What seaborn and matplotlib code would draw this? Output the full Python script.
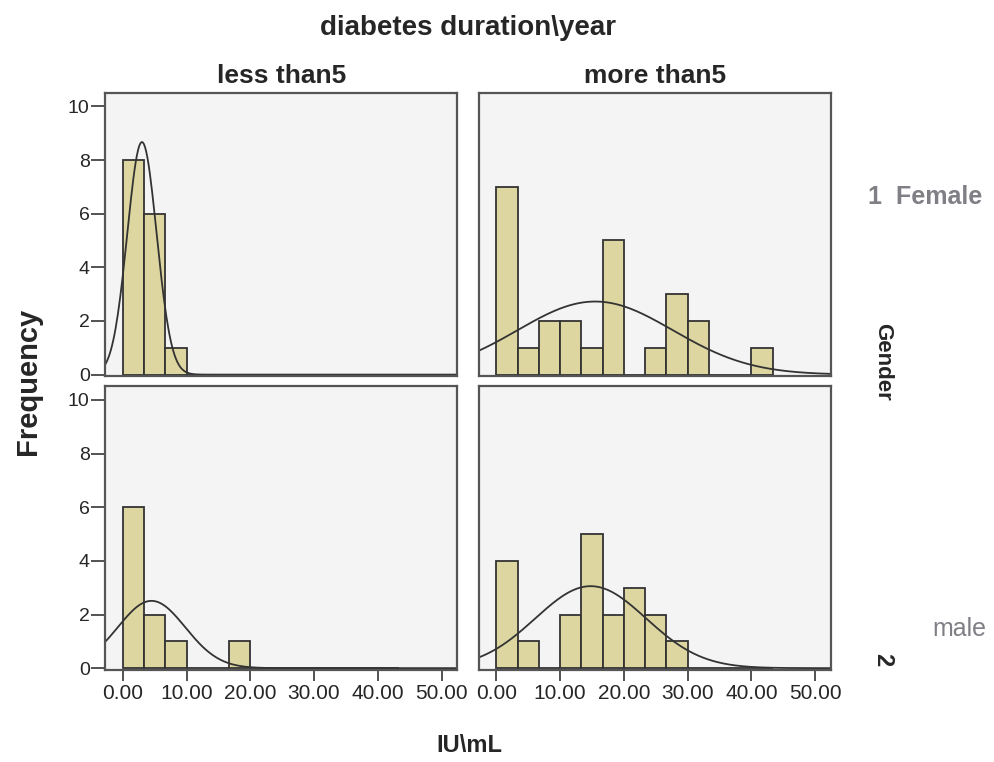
import numpy as np
import pandas as pd
import matplotlib
matplotlib.use("Agg")
import matplotlib.pyplot as plt
import seaborn as sns

sns.set_style("white")
plt.rcParams["font.family"] = ["Liberation Sans", "DejaVu Sans"]

# histogram bins (IU\mL), width 10/3
bin_edges = list(np.arange(14) * (10 / 3))
bin_mids = [(a + b) / 2 for a, b in zip(bin_edges[:-1], bin_edges[1:])]

durations = ["less than5", "more than5"]
genders = ["1  Female", "2 male"]

# counts per bin
female_less = [8, 6, 1, 0, 0, 0, 0, 0, 0, 0, 0, 0, 0]
female_more = [7, 1, 2, 2, 1, 5, 0, 1, 3, 2, 0, 0, 1]
male_less = [6, 2, 1, 0, 0, 1, 0, 0, 0, 0, 0, 0, 0]
male_more = [4, 1, 0, 2, 5, 2, 3, 2, 1, 0, 0, 0, 0]

# fitted normal curves (mean, sd) per panel
fit_mean = {("1  Female", "less than5"): 3.0, ("1  Female", "more than5"): 15.5,
            ("2 male", "less than5"): 4.5, ("2 male", "more than5"): 14.8}
fit_sd = {("1  Female", "less than5"): 2.3, ("1  Female", "more than5"): 12.2,
          ("2 male", "less than5"): 5.3, ("2 male", "more than5"): 8.7}

counts = {("1  Female", "less than5"): female_less, ("1  Female", "more than5"): female_more,
          ("2 male", "less than5"): male_less, ("2 male", "more than5"): male_more}

rows = []
for (g, d), c in counts.items():
    for m, n in zip(bin_mids, c):
        rows.append({"gender": g, "duration": d, "value": m, "count": n})
df = pd.DataFrame(rows)

bar_color = "#DDD6A0"
edge_color = "#333333"
panel_bg = "#F4F4F4"

grid = sns.FacetGrid(df, row="gender", col="duration", row_order=genders,
                     col_order=durations, height=3.5, aspect=1.2, despine=False)
grid.map_dataframe(sns.histplot, x="value", weights="count", bins=bin_edges,
                   color=bar_color, alpha=1, edgecolor=edge_color, linewidth=1.3)

xs = np.linspace(-2.8, 52.5, 300)
binw = bin_edges[1] - bin_edges[0]
for (g, d), ax in grid.axes_dict.items():
    mu, sd = fit_mean[(g, d)], fit_sd[(g, d)]
    n = sum(counts[(g, d)])
    ys = n * binw * np.exp(-0.5 * ((xs - mu) / sd) ** 2) / (sd * np.sqrt(2 * np.pi))
    ax.plot(xs, ys, color="#333333", lw=1.3)
    ax.set_facecolor(panel_bg)
    for s in ax.spines.values():
        s.set_color("#555555")
        s.set_linewidth(1.6)
    ax.set_xlim(-2.8, 52.5)
    ax.set_ylim(-0.07, 10.5)
    ax.set_xlabel("")
    ax.set_ylabel("")
    ax.set_title("")

for ax in grid.axes[:, 0]:
    ax.set_yticks(np.arange(0, 11, 2))
    ax.tick_params(axis="y", left=True, length=10, width=1.3, color="#444444",
                   labelsize=14, pad=1, labelleft=True)
for ax in grid.axes[:, 1]:
    ax.tick_params(axis="y", left=False, labelleft=False)
for ax in grid.axes[0, :]:
    ax.tick_params(axis="x", bottom=False, labelbottom=False)
for ax in grid.axes[1, :]:
    ax.set_xticks(np.arange(0, 51, 10))
    ax.set_xticklabels([f"{v:.2f}" for v in np.arange(0, 51, 10)])
    ax.tick_params(axis="x", bottom=True, length=8, width=1.3, color="#444444",
                   labelsize=15, pad=2, labelbottom=True)

fig = grid.figure
fig.set_size_inches(9.95, 7.62)
fig.subplots_adjust(left=0.1055, right=0.8352, bottom=0.1207, top=0.878,
                    wspace=0.0596, hspace=0.0353)

for ax, title in zip(grid.axes[0, :], durations):
    ax.set_title(title, fontsize=19, fontweight="bold", pad=7)

fig.text(0.47, 0.963, "diabetes duration\\year", ha="center", va="center",
         fontsize=20, fontweight="bold")
fig.text(0.028, 0.5, "Frequency", rotation=90, ha="center", va="center",
         fontsize=21, fontweight="bold")
fig.text(0.472, 0.022, "IU\\mL", ha="center", va="center",
         fontsize=17, fontweight="bold")
fig.text(0.93, 0.741, "1  Female", ha="center", va="center",
         fontsize=18, fontweight="bold", color="#7f7f85")
fig.text(0.887, 0.525, "Gender", rotation=-90, ha="center", va="center",
         fontsize=16, fontweight="bold")
fig.text(0.964, 0.174, "male", ha="center", va="center",
         fontsize=18, color="#7f7f85")
fig.text(0.887, 0.134, "2", rotation=-90, ha="center", va="center",
         fontsize=17, fontweight="bold")

fig.savefig("out.png", dpi=100)
